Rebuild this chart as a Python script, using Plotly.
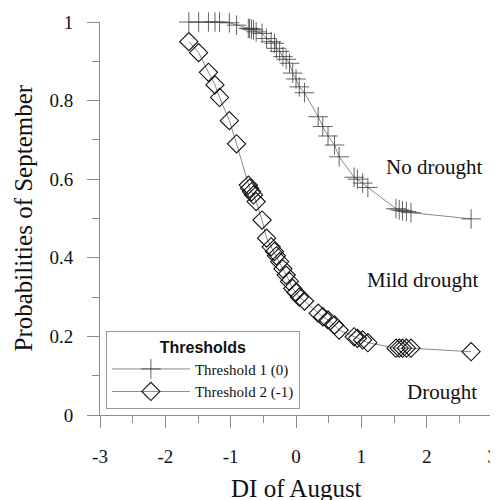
import plotly.graph_objects as go

# DI of August (shared by both thresholds)
di_august = [-1.64, -1.49, -1.34, -1.24, -1.17, -1.02, -0.91, -0.73, -0.71, -0.68,
             -0.65, -0.61, -0.52, -0.45, -0.38, -0.33, -0.30, -0.25, -0.20, -0.15,
             -0.10, -0.05, 0.00, 0.05, 0.13, 0.34, 0.41, 0.49, 0.59, 0.66,
             0.89, 0.94, 1.02, 1.10, 1.53, 1.58, 1.63, 1.69, 1.76, 2.68]

# Probabilities of September, threshold 1 (0) -> "No drought"
prob_t1 = [1.000, 1.000, 1.000, 1.000, 1.000, 0.998, 0.992, 0.984, 0.983, 0.982,
           0.980, 0.975, 0.971, 0.958, 0.950, 0.946, 0.933, 0.925, 0.912, 0.905,
           0.895, 0.870, 0.855, 0.835, 0.820, 0.759, 0.734, 0.710, 0.687, 0.657,
           0.605, 0.600, 0.590, 0.579, 0.525, 0.522, 0.520, 0.518, 0.515, 0.499]

# Probabilities of September, threshold 2 (-1) -> "Drought"
prob_t2 = [0.950, 0.922, 0.872, 0.840, 0.808, 0.749, 0.690, 0.585, 0.577, 0.568,
           0.560, 0.543, 0.496, 0.450, 0.428, 0.416, 0.405, 0.390, 0.372, 0.356,
           0.340, 0.322, 0.312, 0.300, 0.290, 0.259, 0.250, 0.242, 0.229, 0.216,
           0.199, 0.195, 0.191, 0.184, 0.170, 0.170, 0.170, 0.170, 0.170, 0.161]

series_names = ["Threshold 1 (0)", "Threshold 2 (-1)"]
region_labels = ["No drought", "Mild drought", "Drought"]
x_ticks = [-3, -2, -1, 0, 1, 2, 3]
y_ticks = [0, 0.2, 0.4, 0.6, 0.8, 1]

SERIF = "Liberation Serif"
AXIS_GRAY = "#8c8c8c"

fig = go.Figure()
fig.add_trace(go.Scatter(
    x=di_august, y=prob_t1, name=series_names[0], mode="lines+markers",
    line=dict(color="#8a8a8a", width=1),
    marker=dict(symbol="cross-thin-open", size=14, color="rgba(60,60,60,0.8)",
                line=dict(color="rgba(60,60,60,0.8)", width=1)),
    cliponaxis=False,
))
fig.add_trace(go.Scatter(
    x=di_august, y=prob_t2, name=series_names[1], mode="lines+markers",
    line=dict(color="#8a8a8a", width=1),
    marker=dict(symbol="diamond-open", size=14, color="#111111",
                line=dict(color="#111111", width=1.1)),
    cliponaxis=False,
))

fig.update_xaxes(
    range=[-3, 3], tickvals=x_ticks, ticktext=[str(v) for v in x_ticks],
    showgrid=False, zeroline=False, showline=True, linecolor=AXIS_GRAY, linewidth=1,
    ticks="outside", ticklen=12, tickcolor=AXIS_GRAY, tickwidth=1,
    minor=dict(dtick=0.5, ticks="outside", ticklen=7, tickcolor=AXIS_GRAY, showgrid=False),
    tickfont=dict(family=SERIF, size=19, color="#111"),
    ticklabelstandoff=12, automargin=False,
)
fig.update_yaxes(
    range=[0, 1], tickvals=y_ticks, ticktext=["0", "0.2", "0.4", "0.6", "0.8", "1"],
    showgrid=False, zeroline=False, showline=True, linecolor=AXIS_GRAY, linewidth=1,
    ticks="outside", ticklen=12, tickcolor=AXIS_GRAY, tickwidth=1,
    minor=dict(dtick=0.1, ticks="outside", ticklen=7, tickcolor=AXIS_GRAY, showgrid=False),
    tickfont=dict(family=SERIF, size=19, color="#111"),
    ticklabelstandoff=10, automargin=False,
)

annotations = [
    dict(text="DI of August", xref="paper", yref="paper", x=0.5, y=0,
         xanchor="center", yanchor="middle", yshift=-73, showarrow=False,
         font=dict(family=SERIF, size=25, color="#111")),
    dict(text="Probabilities of September", xref="paper", yref="paper", x=0, y=0.5,
         xanchor="center", yanchor="middle", xshift=-77, textangle=-90, showarrow=False,
         font=dict(family=SERIF, size=25, color="#111")),
    dict(text=region_labels[0], xref="paper", yref="paper", x=0.852, y=0.63,
         xanchor="center", yanchor="middle", showarrow=False,
         font=dict(family=SERIF, size=21, color="#111")),
    dict(text=region_labels[1], xref="paper", yref="paper", x=0.824, y=0.344,
         xanchor="center", yanchor="middle", showarrow=False,
         font=dict(family=SERIF, size=21, color="#111")),
    dict(text=region_labels[2], xref="paper", yref="paper", x=0.872, y=0.059,
         xanchor="center", yanchor="middle", showarrow=False,
         font=dict(family=SERIF, size=21, color="#111")),
]

# the page body has an 8px margin; size and margins are set so the plot area
# lands where it does in the reference
fig.update_layout(
    width=490, height=500,
    margin=dict(l=92, r=6, t=14, b=93, autoexpand=False),
    paper_bgcolor="white", plot_bgcolor="white",
    showlegend=True,
    legend=dict(
        x=0.015, y=0.214, xanchor="left", yanchor="top",
        bgcolor="white", bordercolor="#999", borderwidth=1,
        itemwidth=78,
        font=dict(family=SERIF, size=15, color="#111"),
        title=dict(text="<b>Thresholds</b>", side="top center",
                   font=dict(family="Liberation Sans", size=16, color="#111")),
        tracegroupgap=0,
    ),
    annotations=annotations,
)

fig.write_html("out.html")
